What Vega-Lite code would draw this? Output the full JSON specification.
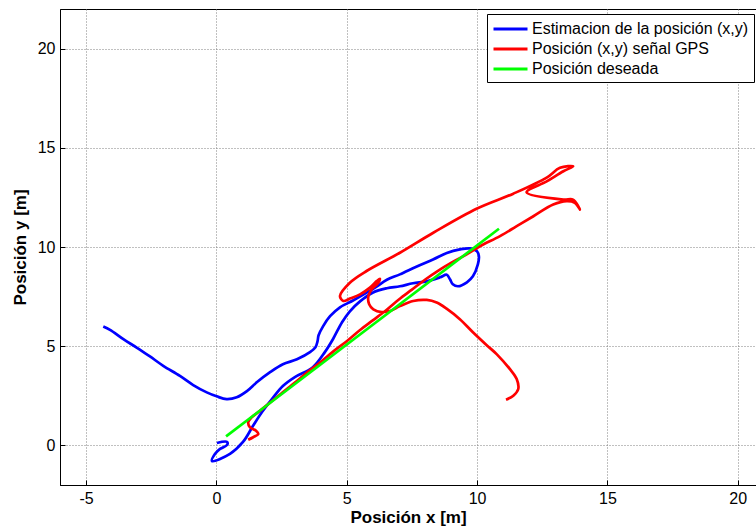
{
  "$schema": "https://vega.github.io/schema/vega-lite/v6.json",
  "width": 696,
  "height": 476,
  "autosize": {"type": "none"},
  "padding": {"left": 60, "top": 9, "right": 0, "bottom": 46},
  "background": "white",
  "config": {
    "font": "Liberation Sans",
    "view": {"stroke": "black", "strokeWidth": 1},
    "axis": {
      "domainColor": "black",
      "domainWidth": 1,
      "tickColor": "black",
      "tickSize": -5,
      "labelColor": "black",
      "labelFont": "Liberation Sans",
      "labelFontSize": 16,
      "labelPadding": 10,
      "titleFont": "Liberation Sans",
      "titleFontSize": 17,
      "titleFontWeight": "bold",
      "titleColor": "black",
      "grid": true,
      "gridColor": "#808080",
      "gridDash": [1, 2],
      "gridWidth": 1
    }
  },
  "data": {
    "values": [
      {"serie": "Estimacion de la posición (x,y)", "i": 1, "x": -4.34, "y": 5.99},
      {"serie": "Estimacion de la posición (x,y)", "i": 2, "x": -4.08, "y": 5.82},
      {"serie": "Estimacion de la posición (x,y)", "i": 3, "x": -3.57, "y": 5.35},
      {"serie": "Estimacion de la posición (x,y)", "i": 4, "x": -3.06, "y": 4.93},
      {"serie": "Estimacion de la posición (x,y)", "i": 5, "x": -2.55, "y": 4.48},
      {"serie": "Estimacion de la posición (x,y)", "i": 6, "x": -2.04, "y": 4.01},
      {"serie": "Estimacion de la posición (x,y)", "i": 7, "x": -1.40, "y": 3.50},
      {"serie": "Estimacion de la posición (x,y)", "i": 8, "x": -0.89, "y": 3.04},
      {"serie": "Estimacion de la posición (x,y)", "i": 9, "x": -0.37, "y": 2.67},
      {"serie": "Estimacion de la posición (x,y)", "i": 10, "x": 0.01, "y": 2.47},
      {"serie": "Estimacion de la posición (x,y)", "i": 11, "x": 0.39, "y": 2.33},
      {"serie": "Estimacion de la posición (x,y)", "i": 12, "x": 0.78, "y": 2.42},
      {"serie": "Estimacion de la posición (x,y)", "i": 13, "x": 1.17, "y": 2.73},
      {"serie": "Estimacion de la posición (x,y)", "i": 14, "x": 1.56, "y": 3.19},
      {"serie": "Estimacion de la posición (x,y)", "i": 15, "x": 2.06, "y": 3.69},
      {"serie": "Estimacion de la posición (x,y)", "i": 16, "x": 2.55, "y": 4.09},
      {"serie": "Estimacion de la posición (x,y)", "i": 17, "x": 3.09, "y": 4.34},
      {"serie": "Estimacion de la posición (x,y)", "i": 18, "x": 3.59, "y": 4.70},
      {"serie": "Estimacion de la posición (x,y)", "i": 19, "x": 3.80, "y": 4.95},
      {"serie": "Estimacion de la posición (x,y)", "i": 20, "x": 3.88, "y": 5.25},
      {"serie": "Estimacion de la posición (x,y)", "i": 21, "x": 3.92, "y": 5.55},
      {"serie": "Estimacion de la posición (x,y)", "i": 22, "x": 4.09, "y": 6.00},
      {"serie": "Estimacion de la posición (x,y)", "i": 23, "x": 4.36, "y": 6.51},
      {"serie": "Estimacion de la posición (x,y)", "i": 24, "x": 4.74, "y": 6.96},
      {"serie": "Estimacion de la posición (x,y)", "i": 25, "x": 5.24, "y": 7.30},
      {"serie": "Estimacion de la posición (x,y)", "i": 26, "x": 5.78, "y": 7.71},
      {"serie": "Estimacion de la posición (x,y)", "i": 27, "x": 6.16, "y": 8.02},
      {"serie": "Estimacion de la posición (x,y)", "i": 28, "x": 6.54, "y": 8.35},
      {"serie": "Estimacion de la posición (x,y)", "i": 29, "x": 7.04, "y": 8.62},
      {"serie": "Estimacion de la posición (x,y)", "i": 30, "x": 7.69, "y": 9.02},
      {"serie": "Estimacion de la posición (x,y)", "i": 31, "x": 8.31, "y": 9.37},
      {"serie": "Estimacion de la posición (x,y)", "i": 32, "x": 8.84, "y": 9.70},
      {"serie": "Estimacion de la posición (x,y)", "i": 33, "x": 9.34, "y": 9.88},
      {"serie": "Estimacion de la posición (x,y)", "i": 34, "x": 9.73, "y": 9.93},
      {"serie": "Estimacion de la posición (x,y)", "i": 35, "x": 10.00, "y": 9.78},
      {"serie": "Estimacion de la posición (x,y)", "i": 36, "x": 10.07, "y": 9.53},
      {"serie": "Estimacion de la posición (x,y)", "i": 37, "x": 10.03, "y": 9.12},
      {"serie": "Estimacion de la posición (x,y)", "i": 38, "x": 9.84, "y": 8.52},
      {"serie": "Estimacion de la posición (x,y)", "i": 39, "x": 9.61, "y": 8.22},
      {"serie": "Estimacion de la posición (x,y)", "i": 40, "x": 9.27, "y": 8.02},
      {"serie": "Estimacion de la posición (x,y)", "i": 41, "x": 9.07, "y": 8.12},
      {"serie": "Estimacion de la posición (x,y)", "i": 42, "x": 8.96, "y": 8.37},
      {"serie": "Estimacion de la posición (x,y)", "i": 43, "x": 8.84, "y": 8.60},
      {"serie": "Estimacion de la posición (x,y)", "i": 44, "x": 8.58, "y": 8.47},
      {"serie": "Estimacion de la posición (x,y)", "i": 45, "x": 8.08, "y": 8.27},
      {"serie": "Estimacion de la posición (x,y)", "i": 46, "x": 7.54, "y": 8.17},
      {"serie": "Estimacion de la posición (x,y)", "i": 47, "x": 7.04, "y": 8.02},
      {"serie": "Estimacion de la posición (x,y)", "i": 48, "x": 6.54, "y": 7.92},
      {"serie": "Estimacion de la posición (x,y)", "i": 49, "x": 6.01, "y": 7.71},
      {"serie": "Estimacion de la posición (x,y)", "i": 50, "x": 5.51, "y": 7.26},
      {"serie": "Estimacion de la posición (x,y)", "i": 51, "x": 5.12, "y": 6.76},
      {"serie": "Estimacion de la posición (x,y)", "i": 52, "x": 4.82, "y": 6.21},
      {"serie": "Estimacion de la posición (x,y)", "i": 53, "x": 4.47, "y": 5.35},
      {"serie": "Estimacion de la posición (x,y)", "i": 54, "x": 4.16, "y": 4.70},
      {"serie": "Estimacion de la posición (x,y)", "i": 55, "x": 3.70, "y": 3.94},
      {"serie": "Estimacion de la posición (x,y)", "i": 56, "x": 3.01, "y": 3.44},
      {"serie": "Estimacion de la posición (x,y)", "i": 57, "x": 2.55, "y": 2.99},
      {"serie": "Estimacion de la posición (x,y)", "i": 58, "x": 2.13, "y": 2.33},
      {"serie": "Estimacion de la posición (x,y)", "i": 59, "x": 1.75, "y": 1.68},
      {"serie": "Estimacion de la posición (x,y)", "i": 60, "x": 1.40, "y": 0.97},
      {"serie": "Estimacion de la posición (x,y)", "i": 61, "x": 1.02, "y": 0.17},
      {"serie": "Estimacion de la posición (x,y)", "i": 62, "x": 0.52, "y": -0.43},
      {"serie": "Estimacion de la posición (x,y)", "i": 63, "x": -0.17, "y": -0.79},
      {"serie": "Estimacion de la posición (x,y)", "i": 64, "x": -0.05, "y": -0.43},
      {"serie": "Estimacion de la posición (x,y)", "i": 65, "x": 0.14, "y": -0.18},
      {"serie": "Estimacion de la posición (x,y)", "i": 66, "x": 0.41, "y": 0.02},
      {"serie": "Estimacion de la posición (x,y)", "i": 67, "x": 0.41, "y": 0.17},
      {"serie": "Estimacion de la posición (x,y)", "i": 68, "x": 0.02, "y": 0.12},

      {"serie": "Posición (x,y) señal GPS", "i": 1, "x": 1.22, "y": 0.28},
      {"serie": "Posición (x,y) señal GPS", "i": 2, "x": 1.41, "y": 0.41},
      {"serie": "Posición (x,y) señal GPS", "i": 3, "x": 1.61, "y": 0.57},
      {"serie": "Posición (x,y) señal GPS", "i": 4, "x": 1.52, "y": 0.74},
      {"serie": "Posición (x,y) señal GPS", "i": 5, "x": 1.29, "y": 0.91},
      {"serie": "Posición (x,y) señal GPS", "i": 6, "x": 1.22, "y": 1.16},
      {"serie": "Posición (x,y) señal GPS", "i": 7, "x": 1.35, "y": 1.41},
      {"serie": "Posición (x,y) señal GPS", "i": 8, "x": 1.67, "y": 1.74},
      {"serie": "Posición (x,y) señal GPS", "i": 9, "x": 2.10, "y": 2.20},
      {"serie": "Posición (x,y) señal GPS", "i": 10, "x": 2.50, "y": 2.62},
      {"serie": "Posición (x,y) señal GPS", "i": 11, "x": 3.00, "y": 3.15},
      {"serie": "Posición (x,y) señal GPS", "i": 12, "x": 3.50, "y": 3.70},
      {"serie": "Posición (x,y) señal GPS", "i": 13, "x": 4.00, "y": 4.20},
      {"serie": "Posición (x,y) señal GPS", "i": 14, "x": 4.50, "y": 4.75},
      {"serie": "Posición (x,y) señal GPS", "i": 15, "x": 5.00, "y": 5.25},
      {"serie": "Posición (x,y) señal GPS", "i": 16, "x": 5.50, "y": 5.80},
      {"serie": "Posición (x,y) señal GPS", "i": 17, "x": 6.00, "y": 6.30},
      {"serie": "Posición (x,y) señal GPS", "i": 18, "x": 6.50, "y": 6.80},
      {"serie": "Posición (x,y) señal GPS", "i": 19, "x": 7.00, "y": 7.35},
      {"serie": "Posición (x,y) señal GPS", "i": 20, "x": 7.50, "y": 7.85},
      {"serie": "Posición (x,y) señal GPS", "i": 21, "x": 8.00, "y": 8.35},
      {"serie": "Posición (x,y) señal GPS", "i": 22, "x": 8.50, "y": 8.80},
      {"serie": "Posición (x,y) señal GPS", "i": 23, "x": 9.00, "y": 9.20},
      {"serie": "Posición (x,y) señal GPS", "i": 24, "x": 9.50, "y": 9.55},
      {"serie": "Posición (x,y) señal GPS", "i": 25, "x": 10.11, "y": 10.04},
      {"serie": "Posición (x,y) señal GPS", "i": 26, "x": 10.88, "y": 10.55},
      {"serie": "Posición (x,y) señal GPS", "i": 27, "x": 11.52, "y": 11.05},
      {"serie": "Posición (x,y) señal GPS", "i": 28, "x": 12.16, "y": 11.55},
      {"serie": "Posición (x,y) señal GPS", "i": 29, "x": 12.92, "y": 12.14},
      {"serie": "Posición (x,y) señal GPS", "i": 30, "x": 13.44, "y": 12.31},
      {"serie": "Posición (x,y) señal GPS", "i": 31, "x": 13.75, "y": 12.23},
      {"serie": "Posición (x,y) señal GPS", "i": 32, "x": 13.95, "y": 11.89},
      {"serie": "Posición (x,y) señal GPS", "i": 33, "x": 13.68, "y": 12.39},
      {"serie": "Posición (x,y) señal GPS", "i": 34, "x": 13.31, "y": 12.39},
      {"serie": "Posición (x,y) señal GPS", "i": 35, "x": 11.90, "y": 12.76},
      {"serie": "Posición (x,y) señal GPS", "i": 36, "x": 12.67, "y": 13.31},
      {"serie": "Posición (x,y) señal GPS", "i": 37, "x": 13.31, "y": 13.82},
      {"serie": "Posición (x,y) señal GPS", "i": 38, "x": 13.69, "y": 14.07},
      {"serie": "Posición (x,y) señal GPS", "i": 39, "x": 13.18, "y": 13.99},
      {"serie": "Posición (x,y) señal GPS", "i": 40, "x": 12.67, "y": 13.50},
      {"serie": "Posición (x,y) señal GPS", "i": 41, "x": 11.39, "y": 12.69},
      {"serie": "Posición (x,y) señal GPS", "i": 42, "x": 10.00, "y": 11.94},
      {"serie": "Posición (x,y) señal GPS", "i": 43, "x": 8.32, "y": 10.72},
      {"serie": "Posición (x,y) señal GPS", "i": 44, "x": 7.04, "y": 9.71},
      {"serie": "Posición (x,y) señal GPS", "i": 45, "x": 5.76, "y": 8.79},
      {"serie": "Posición (x,y) señal GPS", "i": 46, "x": 5.12, "y": 8.20},
      {"serie": "Posición (x,y) señal GPS", "i": 47, "x": 4.74, "y": 7.53},
      {"serie": "Posición (x,y) señal GPS", "i": 48, "x": 4.87, "y": 7.28},
      {"serie": "Posición (x,y) señal GPS", "i": 49, "x": 5.12, "y": 7.40},
      {"serie": "Posición (x,y) señal GPS", "i": 50, "x": 5.51, "y": 7.61},
      {"serie": "Posición (x,y) señal GPS", "i": 51, "x": 5.89, "y": 7.95},
      {"serie": "Posición (x,y) señal GPS", "i": 52, "x": 6.15, "y": 8.28},
      {"serie": "Posición (x,y) señal GPS", "i": 53, "x": 6.27, "y": 8.40},
      {"serie": "Posición (x,y) señal GPS", "i": 54, "x": 6.21, "y": 8.20},
      {"serie": "Posición (x,y) señal GPS", "i": 55, "x": 5.96, "y": 7.87},
      {"serie": "Posición (x,y) señal GPS", "i": 56, "x": 5.83, "y": 7.53},
      {"serie": "Posición (x,y) señal GPS", "i": 57, "x": 5.86, "y": 7.11},
      {"serie": "Posición (x,y) señal GPS", "i": 58, "x": 6.02, "y": 6.86},
      {"serie": "Posición (x,y) señal GPS", "i": 59, "x": 6.34, "y": 6.72},
      {"serie": "Posición (x,y) señal GPS", "i": 60, "x": 6.66, "y": 6.77},
      {"serie": "Posición (x,y) señal GPS", "i": 61, "x": 7.04, "y": 7.02},
      {"serie": "Posición (x,y) señal GPS", "i": 62, "x": 7.55, "y": 7.28},
      {"serie": "Posición (x,y) señal GPS", "i": 63, "x": 8.07, "y": 7.33},
      {"serie": "Posición (x,y) señal GPS", "i": 64, "x": 8.45, "y": 7.20},
      {"serie": "Posición (x,y) señal GPS", "i": 65, "x": 8.83, "y": 6.89},
      {"serie": "Posición (x,y) señal GPS", "i": 66, "x": 9.34, "y": 6.36},
      {"serie": "Posición (x,y) señal GPS", "i": 67, "x": 9.85, "y": 5.69},
      {"serie": "Posición (x,y) señal GPS", "i": 68, "x": 10.37, "y": 5.05},
      {"serie": "Posición (x,y) señal GPS", "i": 69, "x": 10.75, "y": 4.60},
      {"serie": "Posición (x,y) señal GPS", "i": 70, "x": 11.26, "y": 3.84},
      {"serie": "Posición (x,y) señal GPS", "i": 71, "x": 11.52, "y": 3.34},
      {"serie": "Posición (x,y) señal GPS", "i": 72, "x": 11.58, "y": 2.84},
      {"serie": "Posición (x,y) señal GPS", "i": 73, "x": 11.39, "y": 2.50},
      {"serie": "Posición (x,y) señal GPS", "i": 74, "x": 11.11, "y": 2.30},

      {"serie": "Posición deseada", "i": 1, "x": 0.37, "y": 0.45},
      {"serie": "Posición deseada", "i": 2, "x": 10.84, "y": 10.92}
    ]
  },
  "mark": {"type": "line", "strokeWidth": 2.7, "clip": true, "interpolate": "catmull-rom"},
  "encoding": {
    "x": {
      "field": "x",
      "type": "quantitative",
      "scale": {"domain": [-6, 20.7], "nice": false, "zero": false},
      "axis": {
        "values": [-5, 0, 5, 10, 15, 20],
        "title": "Posición x [m]",
        "titlePadding": 3,
        "labelExpr": "datum.value < 0 ? '-' + abs(datum.value) : '' + datum.value"
      }
    },
    "y": {
      "field": "y",
      "type": "quantitative",
      "scale": {"domain": [-2, 22], "nice": false, "zero": false},
      "axis": {"values": [0, 5, 10, 15, 20], "title": "Posición y [m]", "titlePadding": 8}
    },
    "color": {
      "field": "serie",
      "type": "nominal",
      "scale": {
        "domain": ["Estimacion de la posición (x,y)", "Posición (x,y) señal GPS", "Posición deseada"],
        "range": ["#0000ff", "#ff0000", "#00ff00"]
      },
      "legend": {
        "orient": "none",
        "legendX": 427,
        "legendY": 5,
        "title": null,
        "symbolType": "M-1,0H3",
        "symbolStrokeWidth": 3,
        "symbolSize": 289,
        "symbolFillColor": "transparent",
        "labelFont": "Liberation Sans",
        "labelFontSize": 16,
        "labelColor": "black",
        "labelLimit": 400,
        "labelOffset": 20,
        "strokeColor": "black",
        "fillColor": "white",
        "padding": 5,
        "rowPadding": 2
      }
    },
    "order": {"field": "i", "type": "quantitative"}
  }
}
